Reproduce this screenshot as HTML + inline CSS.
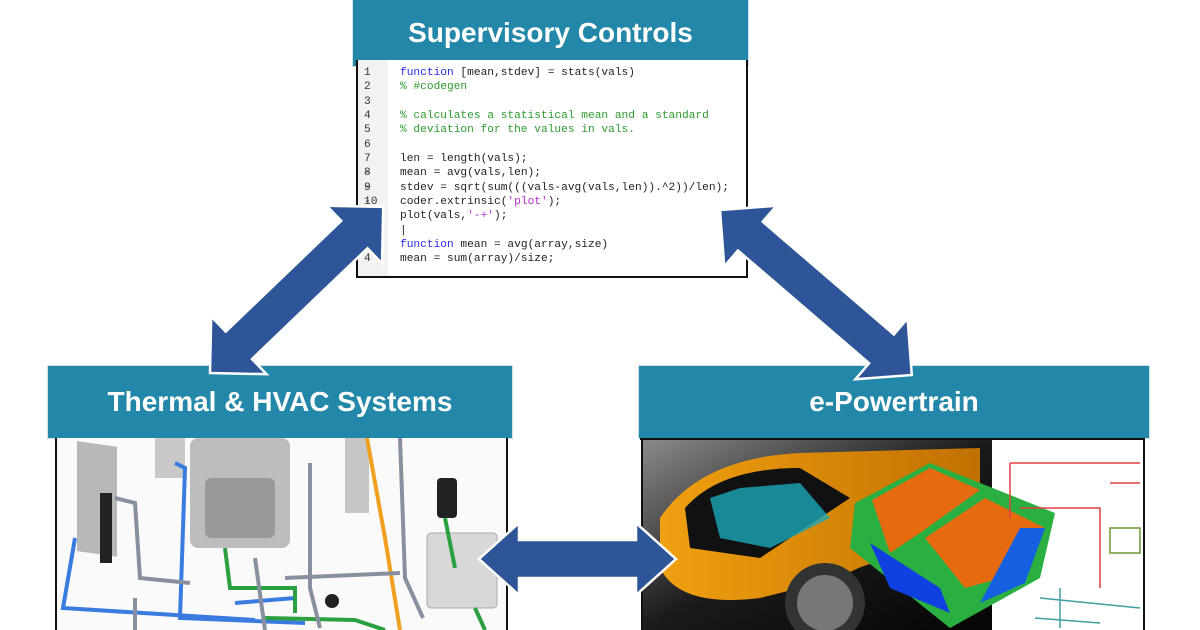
<!DOCTYPE html>
<html><head><meta charset="utf-8"><style>
html,body{margin:0;padding:0;background:#fff;}
body{width:1200px;height:630px;position:relative;overflow:hidden;font-family:"Liberation Sans",sans-serif;}
.hdr{position:absolute;background:#2287a8;color:#fff;font-weight:bold;text-align:center;font-size:28px;box-shadow:0 0 0 1px #cfe3ea;}
.code{position:absolute;left:356px;top:60px;width:388px;height:216px;border:2px solid #111;border-top:none;background:#fff;font-family:"Liberation Mono",monospace;font-size:11.2px;line-height:14.3px;overflow:hidden;}
.ln{position:absolute;left:6px;width:20px;color:#333;}
.cl{position:absolute;left:42px;white-space:pre;color:#222;}
.k{color:#2a2af0}.c{color:#2e9a2e}.s{color:#b030d0}
</style></head><body>

<div class="hdr" style="left:353px;top:0;width:395px;height:66px;line-height:66px;">Supervisory Controls</div>
<div class="code">
<div style="position:absolute;left:0;top:0;width:30px;height:216px;background:#f2f2f2"></div>
<div class="ln" style="top:6px">1</div><div class="cl" style="top:6px"><span class="k">function</span> [mean,stdev] = stats(vals)</div>
<div class="ln" style="top:20px">2</div><div class="cl c" style="top:20px">% #codegen</div>
<div class="ln" style="top:35px">3</div>
<div class="ln" style="top:49px">4</div><div class="cl c" style="top:49px">% calculates a statistical mean and a standard</div>
<div class="ln" style="top:63px">5</div><div class="cl c" style="top:63px">% deviation for the values in vals.</div>
<div class="ln" style="top:78px">6</div>
<div class="ln" style="top:92px">7 -</div><div class="cl" style="top:92px">len = length(vals);</div>
<div class="ln" style="top:106px">8 -</div><div class="cl" style="top:106px">mean = avg(vals,len);</div>
<div class="ln" style="top:121px">9 -</div><div class="cl" style="top:121px">stdev = sqrt(sum(((vals-avg(vals,len)).^2))/len);</div>
<div class="ln" style="top:135px">10 -</div><div class="cl" style="top:135px">coder.extrinsic(<span class="s">'plot'</span>);</div>
<div class="cl" style="top:149px">plot(vals,<span class="s">'-+'</span>);</div>
<div class="cl" style="top:164px">|</div>
<div class="cl" style="top:178px"><span class="k">function</span> mean = avg(array,size)</div>
<div class="ln" style="top:192px">4</div><div class="cl" style="top:192px">mean = sum(array)/size;</div>
</div>

<div class="hdr" style="left:48px;top:366px;width:464px;height:72px;line-height:72px;">Thermal &amp; HVAC Systems</div>
<div class="hdr" style="left:639px;top:366px;width:510px;height:72px;line-height:72px;">e-Powertrain</div>

<!-- Thermal image -->
<svg style="position:absolute;left:55px;top:438px" width="453" height="192">
<rect x="0" y="0" width="453" height="192" fill="#fafafa"/>
<line x1="1" y1="0" x2="1" y2="192" stroke="#111" stroke-width="2"/>
<line x1="452" y1="0" x2="452" y2="192" stroke="#111" stroke-width="2"/>
<rect x="22" y="0" width="40" height="110" fill="#b8b8b8" transform="skewY(8)"/>
<rect x="45" y="55" width="12" height="70" fill="#222"/>
<rect x="100" y="0" width="30" height="40" fill="#c8c8c8"/>
<rect x="135" y="0" width="100" height="110" fill="#bdbdbd" rx="8"/>
<rect x="150" y="40" width="70" height="60" fill="#999" rx="6"/>
<rect x="290" y="0" width="24" height="75" fill="#c6c6c6"/>
<rect x="382" y="40" width="20" height="40" fill="#222" rx="4"/>
<rect x="372" y="95" width="70" height="75" fill="#d8d8d8" stroke="#aaa" rx="4"/>
<g fill="none" stroke-width="4">
<path d="M20 100 L8 170 L200 182" stroke="#3a7be0"/>
<path d="M120 25 L130 30 L125 180 L250 185" stroke="#3a7be0"/>
<path d="M180 165 L240 160" stroke="#3a7be0"/>
<path d="M170 110 L175 150 L240 150 L240 175" stroke="#2aa040"/>
<path d="M210 180 L300 182 L330 192" stroke="#2aa040"/>
<path d="M390 80 L400 130" stroke="#2aa040"/>
<path d="M420 170 L430 192" stroke="#2aa040"/>
<path d="M312 0 L330 100 L345 192" stroke="#f0a020"/>
<path d="M60 60 L80 65 L85 140 L135 145" stroke="#8890a0"/>
<path d="M80 160 L80 192" stroke="#8890a0"/>
<path d="M230 140 L345 135" stroke="#8890a0"/>
<path d="M255 25 L255 150 L265 190" stroke="#8890a0"/>
<path d="M345 0 L350 140 L368 180" stroke="#8890a0"/>
<path d="M200 120 L210 192" stroke="#8890a0"/>
</g>
<circle cx="277" cy="163" r="7" fill="#222"/>
</svg>

<!-- e-Powertrain image -->
<svg style="position:absolute;left:640px;top:438px" width="510" height="192">
<defs>
<linearGradient id="bg" x1="0" y1="0" x2="1" y2="1"><stop offset="0" stop-color="#8a8a8a"/><stop offset="0.5" stop-color="#1a1a1a"/><stop offset="1" stop-color="#050505"/></linearGradient>
<linearGradient id="car" x1="0" y1="0" x2="1" y2="0"><stop offset="0" stop-color="#f0a010"/><stop offset="1" stop-color="#c07000"/></linearGradient>
</defs>
<rect x="2" y="2" width="350" height="190" fill="url(#bg)"/>
<rect x="0" y="0" width="505" height="2" fill="#111"/>
<line x1="2" y1="0" x2="2" y2="192" stroke="#111" stroke-width="2"/>
<rect x="352" y="2" width="152" height="190" fill="#fff"/>
<line x1="504" y1="0" x2="504" y2="192" stroke="#111" stroke-width="2"/>
<path d="M20 80 Q60 20 160 15 L340 10 L340 150 Q260 100 200 140 L120 160 Q40 170 20 130 Z" fill="url(#car)"/>
<path d="M45 70 Q80 30 160 30 L210 60 L120 120 L50 110 Z" fill="#111"/>
<path d="M70 60 L100 50 L160 45 L190 80 L130 110 L80 100 Z" fill="#1aa8b8" opacity="0.8"/>
<circle cx="185" cy="165" r="40" fill="#333"/><circle cx="185" cy="165" r="28" fill="#777"/>
<path d="M215 65 L290 25 L415 75 L400 140 L310 190 L210 110 Z" fill="#2ab040"/>
<path d="M232 62 L290 30 L340 52 L280 95 L250 115 Z" fill="#e56a10"/>
<path d="M285 100 L345 60 L405 90 L380 135 L325 150 Z" fill="#e56a10"/>
<path d="M230 105 L300 150 L310 175 L250 150 Z" fill="#1040e0"/>
<path d="M380 90 L405 90 L385 145 L340 165 Z" fill="#1560e0"/>
<g fill="none" stroke="#e04040" stroke-width="1.5"><path d="M370 25 L500 25 M370 25 L370 80 M380 70 L460 70 L460 150 M470 45 L500 45"/></g>
<g fill="none" stroke="#40a0a0" stroke-width="1.5"><path d="M400 160 L500 170 M420 150 L420 190 M395 180 L460 185"/></g>
<rect x="470" y="90" width="30" height="25" fill="none" stroke="#6a9a30" stroke-width="1.5"/>
</svg>

<!-- arrows -->
<svg style="position:absolute;left:0;top:0" width="1200" height="630">
<g fill="#2e5597" stroke="#fff" stroke-width="2.5" stroke-linejoin="miter">
<polygon transform="translate(210,373) rotate(-43.8)" points="0,0 40,-40 40,-19 200,-19 200,-40 240,0 200,40 200,19 40,19 40,40"/>
<polygon transform="translate(720,210) rotate(40.7)" points="0,0 40,-40 40,-19 213,-19 213,-40 253,0 213,40 213,19 40,19 40,40"/>
<polygon points="479,559 519,523 519,540 636,540 636,523 676,559 636,595 636,578 519,578 519,595"/>
</g>
</svg>
</body></html>
